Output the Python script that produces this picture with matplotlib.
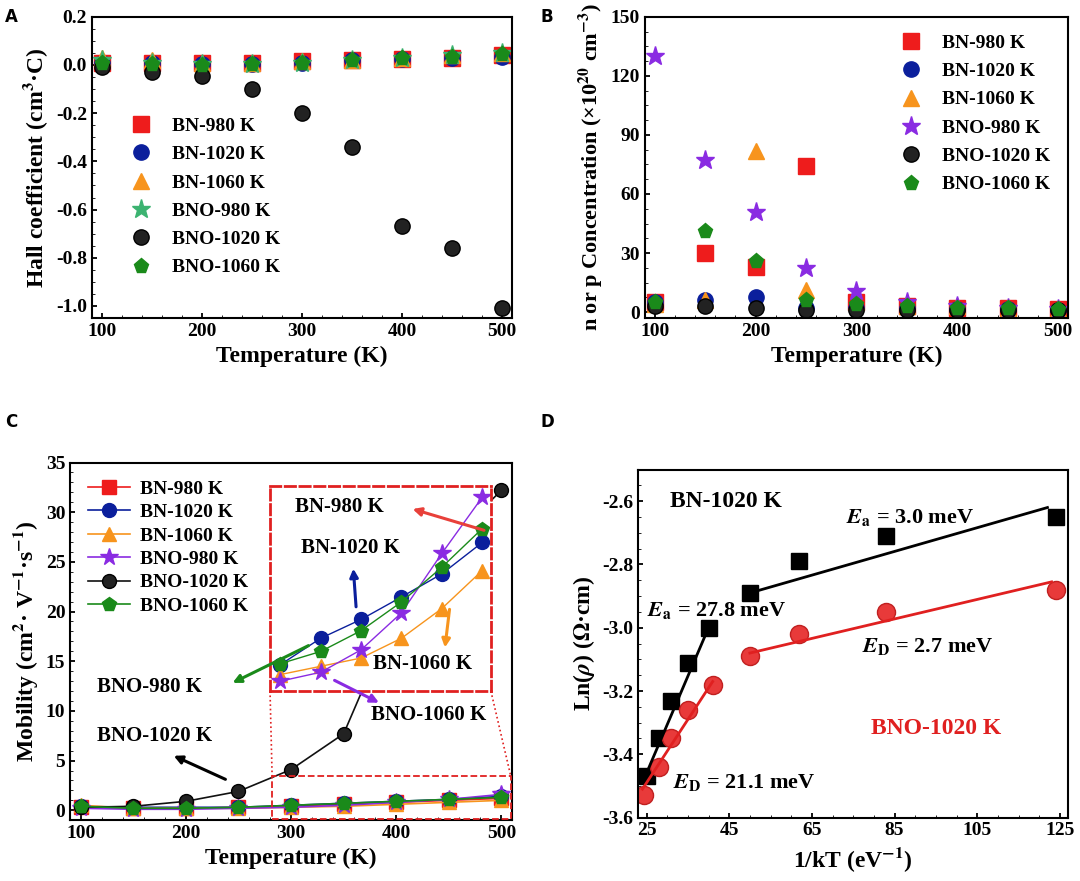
import matplotlib
matplotlib.use("Agg")
import matplotlib.pyplot as plt
import numpy as np

plt.rcParams['font.family'] = ['Liberation Serif', 'DejaVu Serif']
plt.rcParams['font.weight'] = 'bold'
plt.rcParams['axes.labelweight'] = 'bold'
plt.rcParams['mathtext.fontset'] = 'stix'
plt.rcParams['axes.linewidth'] = 1.5
plt.rcParams['xtick.direction'] = 'in'
plt.rcParams['ytick.direction'] = 'in'
plt.rcParams['xtick.major.width'] = 1.3
plt.rcParams['ytick.major.width'] = 1.3

T = [100, 150, 200, 250, 300, 350, 400, 450, 500]
names = ["BN-980 K", "BN-1020 K", "BN-1060 K", "BNO-980 K", "BNO-1020 K", "BNO-1060 K"]
colors = ["#ee1c1c", "#0b1f9c", "#f7941d", "#8a2be2", "#111111", "#1a8a1a"]
markers = ["s", "o", "^", "*", "o", "p"]

# Panel A: Hall coefficient
hall = [
    [0.01, 0.01, 0.01, 0.01, 0.015, 0.02, 0.025, 0.03, 0.04],
    [0.01, 0.01, 0.005, 0.005, 0.01, 0.02, 0.025, 0.03, 0.035],
    [0.03, 0.02, 0.01, 0.01, 0.015, 0.02, 0.03, 0.04, 0.05],
    [0.02, 0.01, 0.005, 0.005, 0.01, 0.02, 0.03, 0.04, 0.05],
    [-0.01, -0.03, -0.045, -0.10, -0.20, -0.34, -0.67, -0.76, -1.01],
    [0.01, 0.005, 0.0, 0.005, 0.01, 0.02, 0.03, 0.035, 0.045],
]
# Panel B: carrier concentration
conc = [
    [5, 30, 23, 74, 5, 3, 2, 2, 1.5],
    [5, 6, 7.5, 2, 2, 2, 1.5, 1.5, 1],
    [4, 6, 82, 11, 5, 3, 3, 2, 1.5],
    [130, 77, 51, 22.5, 10.5, 5, 3, 2, 1.5],
    [3, 3, 2, 1, 1, 1, 1, 1, 1],
    [5, 41, 26, 6, 4, 3, 2, 2, 1.5],
]
# Panel C: mobility
mob = [
    [0.3, 0.2, 0.2, 0.3, 0.4, 0.6, 0.8, 1.0, 1.2],
    [0.4, 0.3, 0.3, 0.3, 0.5, 0.7, 0.9, 1.1, 1.4],
    [0.5, 0.2, 0.2, 0.2, 0.3, 0.4, 0.6, 0.8, 1.0],
    [0.2, 0.1, 0.1, 0.2, 0.3, 0.5, 0.8, 1.1, 1.6],
    [0.3, 0.4, 0.9, 1.9, 4.1, 7.7, 20.0, 27.0, 32.2],
    [0.4, 0.2, 0.2, 0.3, 0.5, 0.7, 0.9, 1.1, 1.3],
]
# inset (zoomed region, arbitrary units)
inset_x = [300, 340, 380, 420, 460, 500]
inset_vals = {
    1: [8, 16, 21.7, 28.5, 35.5, 45],
    2: [5, 7.5, 10, 16, 25, 36.5],
    3: [3, 5.7, 12.5, 23.7, 41.7, 58.7],
    5: [8.3, 12, 18.3, 27, 37.5, 49.2],
}
# Panel D
invkT_bn = [25, 28, 31, 35, 40, 50, 62, 83, 124]
lnr_bn = [-3.47, -3.35, -3.23, -3.11, -3.0, -2.89, -2.79, -2.71, -2.65]
invkT_bno = [24.5, 28, 31, 35, 41, 50, 62, 83, 124]
lnr_bno = [-3.53, -3.44, -3.35, -3.26, -3.18, -3.09, -3.02, -2.95, -2.88]
fit_bn = [([24, 40], [-3.49, -3.0]), ([50, 122], [-2.89, -2.62])]
fit_bno = [([24, 41], [-3.51, -3.17]), ([50, 123], [-3.08, -2.855])]


def mstyle(i):
    m = dict(marker=markers[i], color=colors[i], markersize=11 if markers[i] != "*" else 14,
             markeredgecolor=colors[i], linestyle="none")
    if i == 4:
        m.update(markerfacecolor="#222222", markeredgecolor="black")
    return m


fig = plt.figure(figsize=(10.8, 8.81), dpi=100)
axA = fig.add_axes([0.085, 0.639, 0.389, 0.342])
axB = fig.add_axes([0.597, 0.639, 0.392, 0.342])
axC = fig.add_axes([0.065, 0.069, 0.409, 0.406])
axD = fig.add_axes([0.591, 0.072, 0.398, 0.395])

# A
for i in range(6):
    st = mstyle(i)
    if i == 3:
        st.update(color="#3cb371", markeredgecolor="#3cb371")
    axA.plot(T, hall[i], label=names[i], **st)
axA.set_xlim(90, 510)
axA.set_ylim(-1.05, 0.2)
axA.set_yticks(np.arange(-1.0, 0.21, 0.2))
axA.set_yticklabels(["-1.0", "-0.8", "-0.6", "-0.4", "-0.2", "0.0", "0.2"])
axA.set_xticks([100, 200, 300, 400, 500])
axA.set_xlabel("Temperature (K)", fontsize=17)
axA.set_ylabel("Hall coefficient (cm$^3$·C)", fontsize=17)
axA.legend(loc="lower left", bbox_to_anchor=(0.03, 0.08), frameon=False,
           prop={'size': 14, 'weight': 'bold'}, handletextpad=0.6, labelspacing=0.55)

# B
for i in range(6):
    axB.plot(T, conc[i], label=names[i], **mstyle(i))
axB.set_xlim(90, 510)
axB.set_ylim(-3, 150)
axB.set_yticks(range(0, 151, 30))
axB.set_xticks([100, 200, 300, 400, 500])
axB.set_xlabel("Temperature (K)", fontsize=17)
axB.set_ylabel("n or p Concentration (×10$^{20}$ cm$^{-3}$)", fontsize=16)
axB.legend(loc="upper right", frameon=False, prop={'size': 14, 'weight': 'bold'},
           handletextpad=0.6, labelspacing=0.55)

# C
for i in range(6):
    st = mstyle(i)
    st.update(linestyle="-", linewidth=1.2, markersize=st["markersize"] - 1)
    axC.plot(T, mob[i], label=names[i], **st)
axC.set_xlim(90, 510)
axC.set_ylim(-1, 35)
axC.set_yticks(range(0, 36, 5))
axC.set_xticks([100, 200, 300, 400, 500])
axC.set_xlabel("Temperature (K)", fontsize=17)
axC.set_ylabel("Mobility (cm$^2$· V$^{-1}$·s$^{-1}$)", fontsize=17)
axC.legend(loc="upper left", frameon=False, prop={'size': 14, 'weight': 'bold'},
           handletextpad=0.5, labelspacing=0.3, handlelength=2.2)

bx0, bx1, by0, by1 = 280, 490, 12.0, 32.6
axC.plot([282, 509, 509, 282, 282], [-0.9, -0.9, 3.4, 3.4, -0.9], color="#e02020", ls="--", lw=1.3, zorder=5)
axC.plot([bx0, 282], [by0, 3.4], color="#e02020", ls=":", lw=1.2)
axC.plot([bx1, 509], [by0, 3.4], color="#e02020", ls=":", lw=1.2)

# inset axes with white background over the zoomed region
fig.canvas.draw()
p0 = axC.transData.transform((bx0, by0))
p1 = axC.transData.transform((bx1, by1))
inv = fig.transFigure.inverted()
f0 = inv.transform(p0)
f1 = inv.transform(p1)
axI = fig.add_axes([f0[0], f0[1], f1[0] - f0[0], f1[1] - f0[1]], zorder=2)
axI.set_facecolor("white")
for s in axI.spines.values():
    s.set_color("#e02020")
    s.set_linestyle("--")
    s.set_linewidth(2)
axI.set_xticks([])
axI.set_yticks([])
axI.set_xlim(289.7, 508.6)
axI.set_ylim(0, 62)
for i, v in inset_vals.items():
    st = mstyle(i)
    st.update(linestyle="-", linewidth=1.0, markersize=st["markersize"] - 1)
    axI.plot(inset_x, v, **st)

# overlay for annotations
axO = fig.add_axes(axC.get_position(), zorder=3)
axO.set_xlim(axC.get_xlim())
axO.set_ylim(axC.get_ylim())
axO.axis("off")
ann = [
    ("BN-980 K", (346, 30.5), (486, 28.1), (413, 30.4), "#e8403a"),
    ("BN-1020 K", (356, 26.4), (362, 20.2), (359, 24.6), "#0b1f9c"),
    ("BN-1060 K", (425, 14.7), (451, 20.5), (446, 16.1), "#f7941d"),
    ("BNO-980 K", (165, 12.4), (319, 16.7), (242, 12.7), "#1a8a1a"),
    ("BNO-1060 K", (431, 9.6), (339, 13.2), (386, 10.7), "#8a2be2"),
    ("BNO-1020 K", (170, 7.5), (240, 3.0), (186, 5.6), "black"),
]
for txt, pos, a0, a1, c in ann:
    axO.text(pos[0], pos[1], txt, fontsize=15, fontweight="bold", ha="center", va="center")
    axO.annotate("", xy=a1, xytext=a0,
                 arrowprops=dict(arrowstyle="-|>", color=c, lw=2.2, mutation_scale=12))

# D
axD.plot(invkT_bn, lnr_bn, "s", color="black", markersize=11)
axD.plot(invkT_bno, lnr_bno, "o", color="#e83a3a", markeredgecolor="#c02020", markersize=13)
for xs, ys in fit_bn:
    axD.plot(xs, ys, color="black", lw=2)
for xs, ys in fit_bno:
    axD.plot(xs, ys, color="#e02020", lw=2)
axD.set_xlim(23, 127)
axD.set_ylim(-3.6, -2.5)
axD.set_xticks(range(25, 126, 20))
axD.set_yticks([-3.6, -3.4, -3.2, -3.0, -2.8, -2.6])
axD.set_yticklabels(["-3.6", "-3.4", "-3.2", "-3.0", "-2.8", "-2.6"])
axD.set_xlabel("1/kT (eV$^{-1}$)", fontsize=17)
axD.set_ylabel(r"Ln($\mathbfit{\rho}$) ($\mathbf{\Omega}$·cm)", fontsize=17)
axD.text(44.3, -2.6, "BN-1020 K", fontsize=17, fontweight="bold", ha="center", va="center")
axD.text(95, -3.32, "BNO-1020 K", fontsize=17, fontweight="bold", color="#e02020", ha="center", va="center")
for x, y, s in [(88.8, -2.65, r"$\mathbfit{E}_\mathbf{a}$ = 3.0 meV"),
                (42, -2.946, r"$\mathbfit{E}_\mathbf{a}$ = 27.8 meV"),
                (93, -3.06, r"$\mathbfit{E}_\mathbf{D}$ = 2.7 meV"),
                (48.6, -3.49, r"$\mathbfit{E}_\mathbf{D}$ = 21.1 meV")]:
    axD.text(x, y, s, fontsize=16, fontweight="bold", ha="center", va="center")

for ax in [axA, axB, axC, axD]:
    for t in ax.get_xticklabels() + ax.get_yticklabels():
        t.set_fontweight('bold')
    ax.tick_params(labelsize=14)
    ax.minorticks_on()
    ax.tick_params(which="minor", length=2)

for lab, x, y in [("A", 0.005, 0.975), ("B", 0.50, 0.975), ("C", 0.005, 0.515), ("D", 0.50, 0.515)]:
    fig.text(x, y, lab, fontsize=12, fontweight="bold", family="DejaVu Sans")

fig.savefig("out.png", dpi=100)
